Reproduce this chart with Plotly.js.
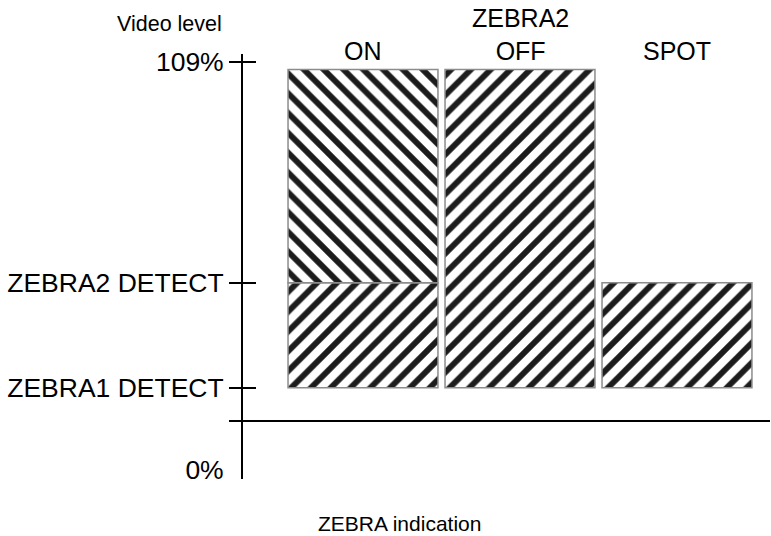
<!DOCTYPE html>
<html>
<head>
<meta charset="utf-8">
<script src="https://cdn.plot.ly/plotly-3.0.1.min.js"></script>
<style>
  html, body { margin: 0; padding: 0; background: #ffffff; }
  #chart { width: 771px; height: 536px; }
</style>
</head>
<body>
<div id="chart"></div>
<script>
// ---- data (schematic video levels) ----
const categories = ['ON', 'OFF', 'SPOT'];
const categoryLabels = ['ON', 'ZEBRA2<br>OFF', 'SPOT'];
const levelTicks = [0, 22, 50, 109];
const levelLabels = ['0%', 'ZEBRA1 DETECT', 'ZEBRA2 DETECT', '109%'];
const markedTicks = [22, 50, 109];
const lowerBase = [22, 22, 22];
const lowerTop = [50, 107, 50];
const upperCategories = ['ON'];
const upperBase = [50];
const upperTop = [107];
const baselineLevel = 13.1;

// ---- layout geometry ----
const W = 771, H = 536;
const mL = 229, mR = 1, mT = 54, mB = 57;
const plotW = W - mL - mR, plotH = H - mT - mB;
const yAxisPx = 242, tickEndPx = 256;
const yRange = [-2.4, 111.14];
const xRange = [-0.8535, 2.5924];

const font = 'Arial, "Liberation Sans", Helvetica, sans-serif';
const yToFrac = v => (v - yRange[0]) / (yRange[1] - yRange[0]);

const patternCommon = { size: 14, solidity: 0.42, fgcolor: '#1c1c1c', bgcolor: '#ffffff', fillmode: 'replace' };

const traces = [
  {
    type: 'bar',
    x: categories,
    base: lowerBase,
    y: lowerTop.map((t, i) => t - lowerBase[i]),
    width: 0.955,
    marker: {
      color: '#ffffff',
      line: { color: '#8c8c8c', width: 1.5 },
      pattern: Object.assign({ shape: '/' }, patternCommon)
    },
    hoverinfo: 'skip',
    showlegend: false
  },
  {
    type: 'bar',
    x: upperCategories,
    base: upperBase,
    y: upperTop.map((t, i) => t - upperBase[i]),
    width: 0.955,
    marker: {
      color: '#ffffff',
      line: { color: '#8c8c8c', width: 1.5 },
      pattern: Object.assign({ shape: '\\' }, patternCommon)
    },
    hoverinfo: 'skip',
    showlegend: false
  }
];

// header row of category labels, all aligned above the tallest bar
const headerLevel = Math.max(...lowerTop, ...upperTop);

const annotations = categories.map((c, i) => ({
  x: c, y: headerLevel, xref: 'x', yref: 'y',
  text: categoryLabels[i], showarrow: false,
  yanchor: 'bottom', yshift: 3,
  font: { family: font, size: 25, color: '#000' }
}));
annotations.push({
  xref: 'paper', yref: 'paper',
  x: (169 - mL) / plotW, y: (H - mB - 24) / plotH,
  text: 'Video level', showarrow: false,
  xanchor: 'center', yanchor: 'middle',
  font: { family: font, size: 21.5, color: '#000' }
});
annotations.push({
  xref: 'paper', yref: 'paper',
  x: (399 - mL) / plotW, y: (H - mB - 523) / plotH,
  text: 'ZEBRA indication', showarrow: false,
  xanchor: 'center', yanchor: 'middle',
  font: { family: font, size: 21, color: '#000' }
});

const layout = {
  width: W, height: H,
  margin: { l: mL, r: mR, t: mT, b: mB, pad: 0 },
  paper_bgcolor: '#ffffff', plot_bgcolor: '#ffffff',
  barmode: 'overlay',
  showlegend: false,
  xaxis: {
    type: 'category',
    range: xRange,
    anchor: 'free',
    position: yToFrac(baselineLevel),
    showline: true, linecolor: '#000', linewidth: 2,
    ticks: '', showticklabels: false,
    showgrid: false, zeroline: false, fixedrange: true
  },
  yaxis: {
    range: yRange,
    anchor: 'free',
    position: (yAxisPx - mL) / plotW,
    showline: true, linecolor: '#000', linewidth: 2,
    ticks: '',
    tickmode: 'array', tickvals: levelTicks, ticktext: levelLabels,
    ticklabelstandoff: 12,
    tickfont: { family: font, size: 26.5, color: '#000' },
    showgrid: false, zeroline: false, fixedrange: true
  },
  yaxis2: {
    overlaying: 'y',
    matches: 'y',
    side: 'left',
    anchor: 'free',
    position: (tickEndPx - mL) / plotW,
    showline: false,
    ticks: 'outside', ticklen: 27, tickwidth: 2, tickcolor: '#000',
    tickmode: 'array', tickvals: markedTicks,
    showticklabels: false,
    showgrid: false, zeroline: false, fixedrange: true
  },
  annotations: annotations
};

// invisible trace so yaxis2 is drawn
traces.push({
  type: 'scatter', x: [categories[0]], y: [levelTicks[0]], yaxis: 'y2',
  mode: 'markers', marker: { opacity: 0 }, hoverinfo: 'skip', showlegend: false
});

Plotly.newPlot('chart', traces, layout, { displayModeBar: false, staticPlot: true });
</script>
</body>
</html>
